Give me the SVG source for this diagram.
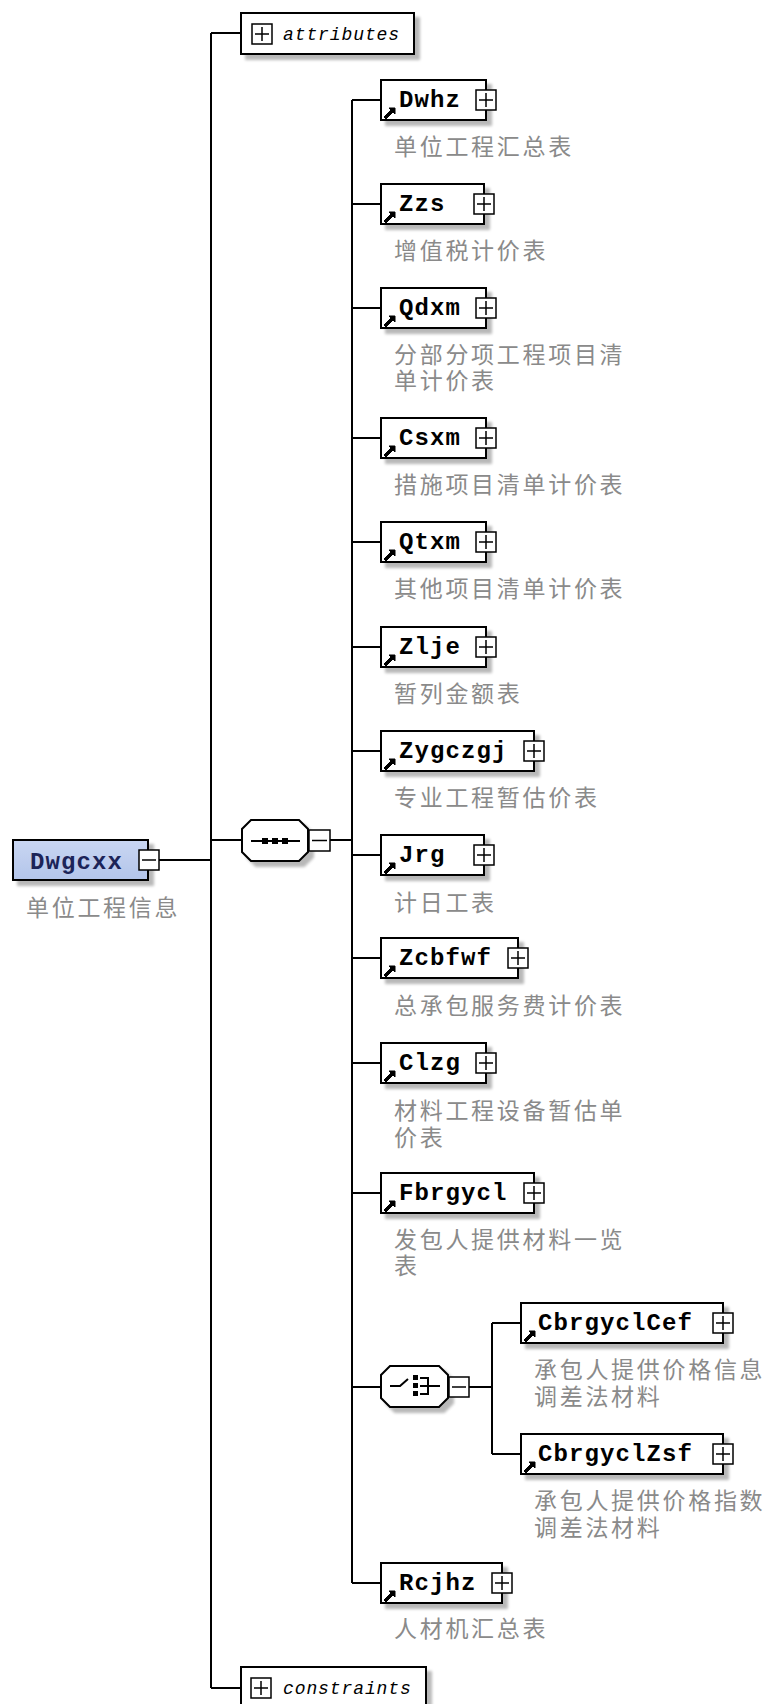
<svg xmlns="http://www.w3.org/2000/svg" width="771" height="1704" viewBox="0 0 771 1704">
<style>
.ln{stroke:#000;stroke-width:2;fill:none}
.box{fill:#fff;stroke:#000;stroke-width:2;filter:url(#sh)}
.pm{fill:#fff;stroke:#000;stroke-width:1.5}
.pmx{stroke:#000;stroke-width:1.5;fill:none}
.ref{fill:#000;stroke:#000;stroke-width:1}
.nm{font-family:"Liberation Mono",monospace;font-weight:bold;font-size:24px;letter-spacing:1.1px;fill:#000}
.ds{font-family:"Liberation Sans","Noto Sans CJK SC",sans-serif;font-size:23px;letter-spacing:2.7px;fill:#8a8a8a}
.it{font-family:"Liberation Mono",monospace;font-style:italic;font-size:18px;letter-spacing:0.9px;fill:#000}
</style>
<defs>
<filter id="sh" x="-10%" y="-20%" width="130%" height="160%">
<feGaussianBlur in="SourceAlpha" stdDeviation="1.8"/>
<feOffset dx="5" dy="5" result="o"/>
<feComponentTransfer><feFuncA type="linear" slope="0.28"/></feComponentTransfer>
<feMerge><feMergeNode/><feMergeNode in="SourceGraphic"/></feMerge>
</filter>
<linearGradient id="rootg" x1="0" y1="0" x2="0" y2="1">
<stop offset="0" stop-color="#c9d6f2"/>
<stop offset="1" stop-color="#b3c5ea"/>
</linearGradient>
</defs>
<rect x="0" y="0" width="771" height="1704" fill="#fff"/>

<g id="connectors" class="ln">
<path d="M159 860H211"/>
<path d="M211 33V1688"/>
<path d="M211 33H241"/>
<path d="M211 840H242"/>
<path d="M211 1688H241"/>
<path d="M330 840H352"/>
<path d="M352 100V1583"/>
<path d="M352 100H381M352 204H381M352 308H381M352 438H381M352 542H381M352 647H381M352 751H381M352 855H381M352 958H381M352 1063H381M352 1193H381M352 1387H381M352 1583H381"/>
<path d="M469 1387H492"/>
<path d="M492 1323V1454"/>
<path d="M492 1323H521M492 1454H521"/>
</g>

<g id="root">
<rect x="13" y="840" width="135" height="40" fill="url(#rootg)" stroke="#000" stroke-width="2" filter="url(#sh)"/>
<text x="30" y="869" class="nm" style="fill:#1c2458">Dwgcxx</text>
<rect class="pm" x="139" y="850" width="20" height="20"/>
<path class="pmx" d="M142 860H156"/>
<text class="ds" x="26" y="916">单位工程信息</text>
</g>

<g id="attributes">
<rect class="box" x="241" y="13" width="173" height="41"/>
<rect class="pm" x="252" y="24" width="20" height="20"/>
<path class="pmx" d="M255 34H269M262 27V41"/>
<text class="it" x="283" y="40">attributes</text>
</g>

<g id="sequence">
<path class="box" d="M251 820H299L308 829V852L299 861H251L242 852V829Z"/>
<path class="ln" d="M251 841H300"/>
<rect x="262" y="838" width="6" height="6" fill="#000"/>
<rect x="272" y="838" width="6" height="6" fill="#000"/>
<rect x="282" y="838" width="6" height="6" fill="#000"/>
<rect class="pm" x="309" y="830" width="21" height="21"/>
<path class="pmx" d="M312 840.5H327"/>
</g>

<g id="n-Dwhz">
<rect class="box" x="381" y="80" width="105" height="40"/>
<path class="ref" d="M384 117L391 110L389 108H395V114L393 112L386 119Z"/>
<text class="nm" x="399" y="107">Dwhz</text>
<rect class="pm" x="476" y="90" width="20" height="20"/><path class="pmx" d="M479 100H493M486 93V107"/>
<text class="ds" x="394" y="155">单位工程汇总表</text>
</g>

<g id="n-Zzs">
<rect class="box" x="381" y="184" width="103" height="40"/>
<path class="ref" d="M384 221L391 214L389 212H395V218L393 216L386 223Z"/>
<text class="nm" x="399" y="211">Zzs</text>
<rect class="pm" x="474" y="194" width="20" height="20"/><path class="pmx" d="M477 204H491M484 197V211"/>
<text class="ds" x="394" y="259">增值税计价表</text>
</g>

<g id="n-Qdxm">
<rect class="box" x="381" y="288" width="105" height="40"/>
<path class="ref" d="M384 325L391 318L389 316H395V322L393 320L386 327Z"/>
<text class="nm" x="399" y="315">Qdxm</text>
<rect class="pm" x="476" y="298" width="20" height="20"/><path class="pmx" d="M479 308H493M486 301V315"/>
<text class="ds" x="394" y="363">分部分项工程项目清<tspan x="394" dy="26">单计价表</tspan></text>
</g>

<g id="n-Csxm">
<rect class="box" x="381" y="418" width="105" height="40"/>
<path class="ref" d="M384 455L391 448L389 446H395V452L393 450L386 457Z"/>
<text class="nm" x="399" y="445">Csxm</text>
<rect class="pm" x="476" y="428" width="20" height="20"/><path class="pmx" d="M479 438H493M486 431V445"/>
<text class="ds" x="394" y="493">措施项目清单计价表</text>
</g>

<g id="n-Qtxm">
<rect class="box" x="381" y="522" width="105" height="40"/>
<path class="ref" d="M384 559L391 552L389 550H395V556L393 554L386 561Z"/>
<text class="nm" x="399" y="549">Qtxm</text>
<rect class="pm" x="476" y="532" width="20" height="20"/><path class="pmx" d="M479 542H493M486 535V549"/>
<text class="ds" x="394" y="597">其他项目清单计价表</text>
</g>

<g id="n-Zlje">
<rect class="box" x="381" y="627" width="105" height="40"/>
<path class="ref" d="M384 664L391 657L389 655H395V661L393 659L386 666Z"/>
<text class="nm" x="399" y="654">Zlje</text>
<rect class="pm" x="476" y="637" width="20" height="20"/><path class="pmx" d="M479 647H493M486 640V654"/>
<text class="ds" x="394" y="702">暂列金额表</text>
</g>

<g id="n-Zygczgj">
<rect class="box" x="381" y="731" width="153" height="40"/>
<path class="ref" d="M384 768L391 761L389 759H395V765L393 763L386 770Z"/>
<text class="nm" x="399" y="758">Zygczgj</text>
<rect class="pm" x="524" y="741" width="20" height="20"/><path class="pmx" d="M527 751H541M534 744V758"/>
<text class="ds" x="394" y="806">专业工程暂估价表</text>
</g>

<g id="n-Jrg">
<rect class="box" x="381" y="835" width="103" height="40"/>
<path class="ref" d="M384 872L391 865L389 863H395V869L393 867L386 874Z"/>
<text class="nm" x="399" y="862">Jrg</text>
<rect class="pm" x="474" y="845" width="20" height="20"/><path class="pmx" d="M477 855H491M484 848V862"/>
<text class="ds" x="394" y="911">计日工表</text>
</g>

<g id="n-Zcbfwf">
<rect class="box" x="381" y="938" width="137" height="40"/>
<path class="ref" d="M384 975L391 968L389 966H395V972L393 970L386 977Z"/>
<text class="nm" x="399" y="965">Zcbfwf</text>
<rect class="pm" x="508" y="948" width="20" height="20"/><path class="pmx" d="M511 958H525M518 951V965"/>
<text class="ds" x="394" y="1014">总承包服务费计价表</text>
</g>

<g id="n-Clzg">
<rect class="box" x="381" y="1043" width="105" height="40"/>
<path class="ref" d="M384 1080L391 1073L389 1071H395V1077L393 1075L386 1082Z"/>
<text class="nm" x="399" y="1070">Clzg</text>
<rect class="pm" x="476" y="1053" width="20" height="20"/><path class="pmx" d="M479 1063H493M486 1056V1070"/>
<text class="ds" x="394" y="1119">材料工程设备暂估单<tspan x="394" dy="27">价表</tspan></text>
</g>

<g id="n-Fbrgycl">
<rect class="box" x="381" y="1173" width="153" height="40"/>
<path class="ref" d="M384 1210L391 1203L389 1201H395V1207L393 1205L386 1212Z"/>
<text class="nm" x="399" y="1200">Fbrgycl</text>
<rect class="pm" x="524" y="1183" width="20" height="20"/><path class="pmx" d="M527 1193H541M534 1186V1200"/>
<text class="ds" x="394" y="1248">发包人提供材料一览<tspan x="394" dy="26">表</tspan></text>
</g>

<g id="choice">
<path class="box" d="M390 1366H439L448 1375V1398L439 1407H390L381 1398V1375Z"/>
<path class="ln" d="M390 1386H400L408 1379"/>
<rect x="413" y="1375" width="5" height="5" fill="#000"/>
<rect x="413" y="1383" width="5" height="5" fill="#000"/>
<rect x="413" y="1391" width="5" height="5" fill="#000"/>
<path class="ln" d="M420 1378H428V1394H420M420 1386H440"/>
<rect class="pm" x="449" y="1377" width="20" height="20"/>
<path class="pmx" d="M452 1387H466"/>
</g>

<g id="n-CbrgyclCef">
<rect class="box" x="521" y="1303" width="202" height="40"/>
<path class="ref" d="M524 1340L531 1333L529 1331H535V1337L533 1335L526 1342Z"/>
<text class="nm" x="538" y="1330">CbrgyclCef</text>
<rect class="pm" x="713" y="1313" width="20" height="20"/><path class="pmx" d="M716 1323H730M723 1316V1330"/>
<text class="ds" x="534" y="1378">承包人提供价格信息<tspan x="534" dy="27">调差法材料</tspan></text>
</g>

<g id="n-CbrgyclZsf">
<rect class="box" x="521" y="1434" width="202" height="40"/>
<path class="ref" d="M524 1471L531 1464L529 1462H535V1468L533 1466L526 1473Z"/>
<text class="nm" x="538" y="1461">CbrgyclZsf</text>
<rect class="pm" x="713" y="1444" width="20" height="20"/><path class="pmx" d="M716 1454H730M723 1447V1461"/>
<text class="ds" x="534" y="1509">承包人提供价格指数<tspan x="534" dy="27">调差法材料</tspan></text>
</g>

<g id="n-Rcjhz">
<rect class="box" x="381" y="1563" width="121" height="40"/>
<path class="ref" d="M384 1600L391 1593L389 1591H395V1597L393 1595L386 1602Z"/>
<text class="nm" x="399" y="1590">Rcjhz</text>
<rect class="pm" x="492" y="1573" width="20" height="20"/><path class="pmx" d="M495 1583H509M502 1576V1590"/>
<text class="ds" x="394" y="1637">人材机汇总表</text>
</g>

<g id="constraints">
<rect class="box" x="241" y="1667" width="185" height="42"/>
<rect class="pm" x="251" y="1678" width="20" height="20"/>
<path class="pmx" d="M254 1688H268M261 1681V1695"/>
<text class="it" x="283" y="1694">constraints</text>
</g>
</svg>
